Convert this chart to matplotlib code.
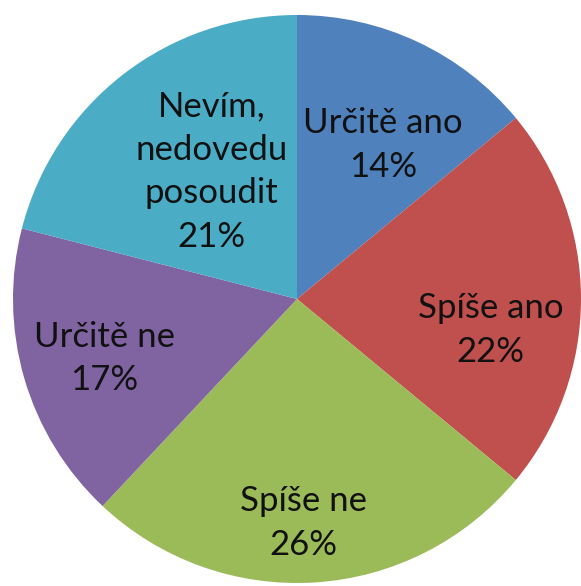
import numpy as np
import matplotlib.pyplot as plt

labels = ['Určitě ano', 'Spíše ano', 'Spíše ne', 'Určitě ne', 'Nevím,\nnedovedu\nposoudit']
values = [14, 22, 26, 17, 21]
colors = ['#4F81BD', '#C0504D', '#9BBB59', '#8064A2', '#4BACC6']

# label placement (fraction of radius, angle tweak in degrees)
label_r = [0.62, 0.69, 0.79, 0.71, 0.54]
label_da = [-4, -9, -2, 1, -4]

fig = plt.figure(figsize=(5.81, 5.86), dpi=100)
ax = fig.add_axes([13 / 581, 3 / 586, 568 / 581, 568 / 586])

wedges, _ = ax.pie(values, colors=colors, startangle=90, counterclock=False,
                   radius=1, wedgeprops=dict(linewidth=0))

for w, lab, v, r, da in zip(wedges, labels, values, label_r, label_da):
    mid = np.deg2rad((w.theta1 + w.theta2) / 2 + da)
    ax.text(r * np.cos(mid), r * np.sin(mid), f'{lab}\n{v}%',
            ha='center', va='center', fontsize=25, family='Lato',
            color='#111111', linespacing=1.45)

ax.set_xlim(-1, 1)
ax.set_ylim(-1, 1)
ax.set_aspect('equal')
ax.axis('off')

fig.savefig('out.png', dpi=100)
